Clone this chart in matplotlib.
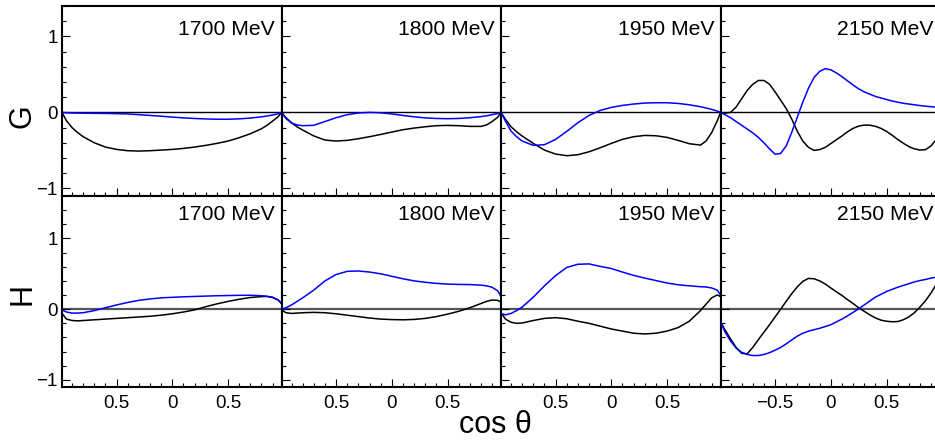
import numpy as np
import matplotlib
matplotlib.use("Agg")
import matplotlib.pyplot as plt
from matplotlib.ticker import MultipleLocator, FixedLocator, FixedFormatter

plt.rcParams['font.family'] = ['Liberation Sans', 'DejaVu Sans']

# ---------------- data ----------------
cos_theta = [-0.99, -0.95, -0.9, -0.85, -0.8, -0.7, -0.6, -0.5, -0.4, -0.3, -0.2, -0.1, 0.0,
             0.1, 0.2, 0.3, 0.4, 0.5, 0.6, 0.7, 0.8, 0.85, 0.9, 0.95, 0.98]
# finer sampling for the strongly oscillating 2150 MeV curves
cos_theta_2150 = [-0.99, -0.95, -0.9, -0.85, -0.8, -0.75, -0.7, -0.65, -0.6, -0.55, -0.5, -0.45, -0.4,
                  -0.35, -0.3, -0.25, -0.2, -0.15, -0.1, -0.05, 0.0, 0.05, 0.1, 0.15, 0.2, 0.25, 0.3,
                  0.35, 0.4, 0.45, 0.5, 0.55, 0.6, 0.65, 0.7, 0.75, 0.8, 0.85, 0.9, 0.95, 0.98]
energies = ["1700 MeV", "1800 MeV", "1950 MeV", "2150 MeV"]
observables = ["G", "H"]

# G, black curves
G_black_1700 = [0, -0.11, -0.20, -0.265, -0.32, -0.40, -0.456, -0.487, -0.504, -0.509, -0.504, -0.496, -0.487,
                -0.474, -0.456, -0.434, -0.408, -0.377, -0.333, -0.281, -0.215, -0.17, -0.114, -0.057, 0]
G_black_1800 = [0, -0.07, -0.136, -0.19, -0.232, -0.31, -0.364, -0.377, -0.368, -0.346, -0.32, -0.29, -0.259,
                -0.228, -0.206, -0.189, -0.175, -0.171, -0.175, -0.184, -0.184, -0.165, -0.12, -0.065, 0]
G_black_1950 = [0, -0.092, -0.189, -0.255, -0.311, -0.408, -0.496, -0.548, -0.57, -0.557, -0.518, -0.465, -0.408,
                -0.355, -0.32, -0.303, -0.307, -0.329, -0.368, -0.412, -0.43, -0.377, -0.268, -0.114, 0]
G_black_2150 = [0, -0.01, 0.0, 0.07, 0.18, 0.29, 0.37, 0.42, 0.42, 0.37, 0.27, 0.16, 0.05,
                -0.09, -0.25, -0.38, -0.46, -0.50, -0.49, -0.46, -0.41, -0.36, -0.31, -0.255, -0.21, -0.18, -0.167,
                -0.168, -0.183, -0.21, -0.25, -0.30, -0.355, -0.405, -0.45, -0.48, -0.495, -0.49, -0.44, -0.35, -0.28]
# G, blue curves
G_blue_1700 = [0, -0.005, -0.008, -0.009, -0.01, -0.012, -0.014, -0.017, -0.02, -0.03, -0.04, -0.05, -0.062,
               -0.072, -0.08, -0.086, -0.09, -0.09, -0.085, -0.075, -0.058, -0.047, -0.035, -0.018, 0]
G_blue_1800 = [0, -0.08, -0.14, -0.165, -0.175, -0.17, -0.12, -0.07, -0.03, -0.008, 0, -0.005, -0.02,
               -0.04, -0.058, -0.072, -0.08, -0.083, -0.08, -0.07, -0.055, -0.045, -0.03, -0.015, 0]
G_blue_1950 = [0, -0.114, -0.246, -0.32, -0.377, -0.434, -0.425, -0.355, -0.25, -0.136, -0.04, 0.026, 0.066,
               0.092, 0.11, 0.123, 0.127, 0.127, 0.118, 0.10, 0.075, 0.058, 0.04, 0.018, 0]
G_blue_2150 = [0, -0.03, -0.07, -0.12, -0.17, -0.22, -0.27, -0.33, -0.40, -0.48, -0.55, -0.54, -0.44,
               -0.26, -0.06, 0.14, 0.32, 0.46, 0.54, 0.575, 0.56, 0.52, 0.47, 0.415, 0.36, 0.31, 0.27,
               0.24, 0.21, 0.19, 0.17, 0.15, 0.135, 0.12, 0.11, 0.10, 0.09, 0.082, 0.075, 0.068, 0.065]
# H, black curves
H_black_1700 = [-0.06, -0.14, -0.16, -0.165, -0.16, -0.15, -0.14, -0.13, -0.12, -0.11, -0.1, -0.085, -0.065,
                -0.04, -0.01, 0.035, 0.075, 0.11, 0.14, 0.165, 0.178, 0.18, 0.165, 0.13, 0.08]
H_black_1800 = [-0.01, -0.05, -0.06, -0.055, -0.05, -0.045, -0.05, -0.065, -0.085, -0.105, -0.125, -0.14, -0.147,
                -0.15, -0.145, -0.13, -0.105, -0.07, -0.03, 0.02, 0.08, 0.11, 0.13, 0.125, 0.1]
H_black_1950 = [-0.05, -0.14, -0.185, -0.2, -0.195, -0.16, -0.13, -0.12, -0.135, -0.17, -0.2, -0.24, -0.28,
                -0.31, -0.34, -0.35, -0.34, -0.31, -0.26, -0.17, -0.02, 0.07, 0.16, 0.2, 0.18]
H_black_2150 = [-0.18, -0.29, -0.42, -0.54, -0.625, -0.63, -0.54, -0.43, -0.326, -0.22, -0.11, 0.0, 0.113,
                0.22, 0.317, 0.395, 0.435, 0.43, 0.40, 0.355, 0.30, 0.245, 0.194, 0.135, 0.08, 0.02, -0.03,
                -0.08, -0.123, -0.155, -0.17, -0.178, -0.175, -0.15, -0.11, -0.05, 0.03, 0.12, 0.23, 0.36, 0.43]
# H, blue curves
H_blue_1700 = [-0.01, -0.04, -0.055, -0.055, -0.05, -0.02, 0.02, 0.06, 0.095, 0.125, 0.145, 0.16, 0.168,
               0.175, 0.18, 0.185, 0.19, 0.193, 0.196, 0.197, 0.19, 0.182, 0.17, 0.13, 0.08]
H_blue_1800 = [0.0, 0.02, 0.06, 0.11, 0.16, 0.27, 0.4, 0.49, 0.535, 0.54, 0.525, 0.5, 0.465,
               0.43, 0.4, 0.38, 0.365, 0.355, 0.35, 0.348, 0.34, 0.33, 0.31, 0.26, 0.18]
H_blue_1950 = [-0.06, -0.08, -0.06, -0.02, 0.03, 0.17, 0.33, 0.475, 0.59, 0.635, 0.64, 0.605, 0.575,
               0.525, 0.478, 0.44, 0.405, 0.37, 0.345, 0.33, 0.318, 0.314, 0.3, 0.27, 0.2]
H_blue_2150 = [-0.18, -0.32, -0.45, -0.55, -0.61, -0.64, -0.655, -0.655, -0.64, -0.615, -0.58, -0.54, -0.49,
               -0.435, -0.38, -0.34, -0.31, -0.29, -0.27, -0.245, -0.22, -0.18, -0.14, -0.095, -0.045, 0.005, 0.06,
               0.115, 0.17, 0.21, 0.25, 0.28, 0.31, 0.335, 0.36, 0.385, 0.405, 0.42, 0.44, 0.455, 0.46]

x_per_panel = [cos_theta, cos_theta, cos_theta, cos_theta_2150]
black_curves = {"G": [G_black_1700, G_black_1800, G_black_1950, G_black_2150],
                "H": [H_black_1700, H_black_1800, H_black_1950, H_black_2150]}
blue_curves = {"G": [G_blue_1700, G_blue_1800, G_blue_1950, G_blue_2150],
               "H": [H_blue_1700, H_blue_1800, H_blue_1950, H_blue_2150]}

xtick_vals = [-0.5, 0, 0.5]
xtick_labels_inner = ["0.5", "0", "0.5"]
xtick_labels_last = ["\u22120.5", "0", "0.5"]
ytick_vals = [-1, 0, 1]
ytick_labels = ["\u22121", "0", "1"]

# ---------------- layout ----------------
W, H = 935, 440
fig = plt.figure(figsize=(W / 100, H / 100), dpi=100)

col_left = [62, 281.5, 501, 720.5]
col_w = 219.5
row_top = [6, 196]
row_h = [190, 191]
ylims = [(-1.1, 1.4), (-1.1, 1.6)]

for r, obs in enumerate(observables):
    for c in range(4):
        ax = fig.add_axes([col_left[c] / W, 1 - (row_top[r] + row_h[r]) / H,
                           col_w / W, row_h[r] / H])
        ax.set_xlim(-0.99, 0.98)
        ax.set_ylim(*ylims[r])
        if r == 0:
            ax.axhline(0, color='black', lw=1.0, zorder=1)
        else:
            ax.axhline(0, color='#555555', lw=1.6, zorder=1)
        ax.plot(x_per_panel[c], black_curves[obs][c], color='black', lw=1.1, zorder=2)
        ax.plot(x_per_panel[c], blue_curves[obs][c], color='#0000ff', lw=1.1, zorder=3)

        ax.xaxis.set_major_locator(FixedLocator(xtick_vals))
        ax.xaxis.set_minor_locator(MultipleLocator(0.1))
        ax.yaxis.set_major_locator(FixedLocator(ytick_vals))
        ax.yaxis.set_minor_locator(MultipleLocator(0.2))
        ax.tick_params(which='both', direction='in', top=False, right=False,
                       labelsize=13.5, width=0.8)
        ax.tick_params(which='major', length=5.5)
        ax.tick_params(which='minor', length=2.8)
        ax.tick_params(axis='x', pad=6)
        ax.tick_params(axis='y', pad=3)

        if r == 1:
            ax.xaxis.set_major_formatter(FixedFormatter(
                xtick_labels_last if c == 3 else xtick_labels_inner))
        else:
            ax.set_xticklabels([])
        if c == 0:
            ax.yaxis.set_major_formatter(FixedFormatter(ytick_labels))
        else:
            ax.set_yticklabels([])

        for s in ax.spines.values():
            s.set_linewidth(1.5)

        off = -29 if r == 0 else -24
        ax.annotate(energies[c], xy=(0.971, 1.0), xycoords='axes fraction',
                    xytext=(0, off), textcoords='offset pixels',
                    ha='right', va='baseline', fontsize=15.2)

fig.text(22.5 / W, 1 - 116 / H, "G", rotation=90, ha='center', va='center', fontsize=22)
fig.text(22.5 / W, 1 - 294 / H, "H", rotation=90, ha='center', va='center', fontsize=22)
fig.text(495 / W, 1 - 432.5 / H, "cos \u03b8", ha='center', va='baseline', fontsize=22)

fig.savefig("out.png", dpi=100)
